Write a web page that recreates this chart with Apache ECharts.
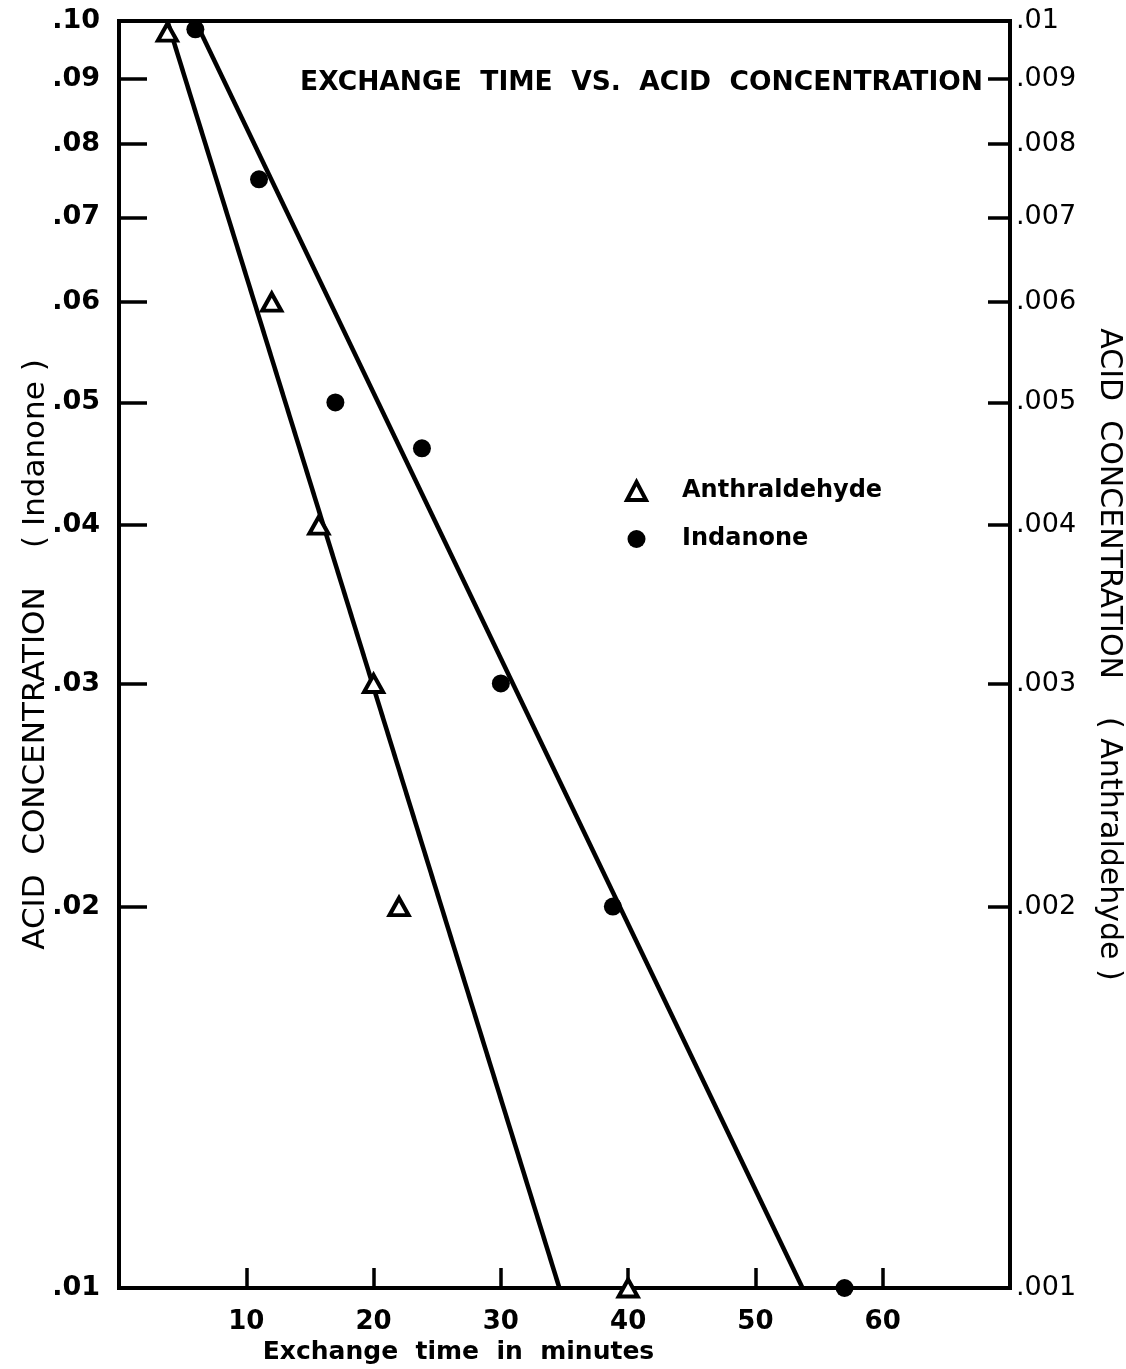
<!DOCTYPE html>
<html>
<head>
<meta charset="utf-8">
<script src="https://cdn.jsdelivr.net/npm/echarts@6/dist/echarts.min.js"></script>
<style>
html,body{margin:0;padding:0;background:#fff;}
#chart{width:1126px;height:1369px;}
</style>
</head>
<body>
<div id="chart"></div>
<script>
// ---- data ----
var xTickValues = [10, 20, 30, 40, 50, 60];
var leftTickValues = [0.02, 0.03, 0.04, 0.05, 0.06, 0.07, 0.08, 0.09];
var leftLabelValues = [0.01, 0.02, 0.03, 0.04, 0.05, 0.06, 0.07, 0.08, 0.09, 0.1];
var rightTickValues = [0.002, 0.003, 0.004, 0.005, 0.006, 0.007, 0.008, 0.009];
var rightLabelValues = [0.001, 0.002, 0.003, 0.004, 0.005, 0.006, 0.007, 0.008, 0.009, 0.01];

// Anthraldehyde (right axis): [time min, acid conc]
var anthraldehydePoints = [[3.8, 0.0098], [12, 0.006], [15.7, 0.004], [20, 0.003], [22, 0.002], [40, 0.001]];
var anthraldehydeLine = [[3.8, 0.01], [34.6, 0.001]];
// Indanone (left axis)
var indanonePoints = [[6, 0.0985], [11, 0.075], [17, 0.05], [23.8, 0.046], [30, 0.03], [38.8, 0.02], [57, 0.01]];
var indanoneLine = [[6.0, 0.1], [53.7, 0.01]];

var FONT = 'DejaVu Sans';

var chart = echarts.init(document.getElementById('chart'));
chart.setOption({
  backgroundColor: '#fff',
  animation: false,
  title: {
    text: 'EXCHANGE  TIME  VS.  ACID  CONCENTRATION',
    right: 138,
    top: 65,
    textStyle: {fontFamily: FONT, fontSize: 26.5, fontWeight: 'bold', color: '#000'}
  },
  legend: {
    orient: 'vertical',
    left: 620,
    top: 474,
    itemGap: 24,
    itemWidth: 19,
    itemHeight: 18,
    data: [
      {name: 'Anthraldehyde', itemStyle: {borderWidth: 4, borderColor: '#000', color: '#fff'}},
      {name: 'Indanone'}
    ],
    textStyle: {fontFamily: FONT, fontSize: 24, fontWeight: 'bold', color: '#000', padding: [0, 0, 0, 31]}
  },
  grid: {
    left: 119, right: 116, top: 21, bottom: 81,
    outerBoundsMode: 'none', containLabel: false,
    show: true, borderColor: '#000', borderWidth: 4, backgroundColor: 'transparent'
  },
  xAxis: {
    type: 'value', min: 0, max: 70,
    name: 'Exchange  time  in  minutes',
    nameLocation: 'middle', nameGap: 52, nameMoveOverlap: false,
    nameTextStyle: {fontFamily: FONT, fontSize: 25, fontWeight: 'bold', color: '#000', padding: [0, 212, 0, 0]},
    axisLine: {show: true, lineStyle: {color: '#000', width: 4}},
    axisTick: {show: true, inside: true, length: 20, customValues: xTickValues, lineStyle: {color: '#000', width: 3.5}},
    axisLabel: {customValues: xTickValues, margin: 21, fontFamily: FONT, fontSize: 26, fontWeight: 'bold', color: '#000'},
    splitLine: {show: false}
  },
  yAxis: [{
    type: 'log', logBase: 10, min: 0.01, max: 0.1, position: 'left',
    name: 'ACID  CONCENTRATION    ( Indanone )',
    nameLocation: 'middle', nameGap: 68, nameRotate: 90, nameMoveOverlap: false,
    nameTextStyle: {fontFamily: FONT, fontSize: 31, color: '#000'},
    axisLine: {show: true, lineStyle: {color: '#000', width: 4}},
    axisTick: {show: true, inside: true, length: 28, customValues: leftTickValues, lineStyle: {color: '#000', width: 3.5}},
    axisLabel: {customValues: leftLabelValues, margin: 19, fontFamily: FONT, fontSize: 27, fontWeight: 'bold', color: '#000',
      formatter: function (v) { return v.toFixed(2).replace(/^0/, ''); }},
    splitLine: {show: false}, minorTick: {show: false}
  }, {
    type: 'log', logBase: 10, min: 0.001, max: 0.01, position: 'right',
    name: 'ACID  CONCENTRATION    ( Anthraldehyde )',
    nameLocation: 'middle', nameGap: 84, nameRotate: -90,
    nameTextStyle: {fontFamily: FONT, fontSize: 30, color: '#000'},
    axisLine: {show: true, lineStyle: {color: '#000', width: 4}},
    axisTick: {show: true, inside: true, length: 22, customValues: rightTickValues, lineStyle: {color: '#000', width: 3.5}},
    axisLabel: {customValues: rightLabelValues, margin: 6, fontFamily: FONT, fontSize: 27, color: '#000',
      formatter: function (v) { return v >= 0.0099 ? '.01' : v.toFixed(3).replace(/^0/, ''); }},
    splitLine: {show: false}, minorTick: {show: false}
  }],
  series: [{
    name: 'Anthraldehyde fit', type: 'line', yAxisIndex: 1, data: anthraldehydeLine,
    symbol: 'none', lineStyle: {color: '#000', width: 4.5}, z: 2, silent: true
  }, {
    name: 'Indanone fit', type: 'line', yAxisIndex: 0, data: indanoneLine,
    symbol: 'none', lineStyle: {color: '#000', width: 4.5}, z: 2, silent: true
  }, {
    name: 'Anthraldehyde', type: 'scatter', yAxisIndex: 1, data: anthraldehydePoints,
    symbol: 'triangle', symbolSize: [19, 17], clip: false,
    itemStyle: {color: '#fff', borderColor: '#000', borderWidth: 4, opacity: 1}, z: 5
  }, {
    name: 'Indanone', type: 'scatter', yAxisIndex: 0, data: indanonePoints,
    symbol: 'circle', symbolSize: 18, clip: false,
    itemStyle: {color: '#000', opacity: 1}, z: 5
  }]
});
</script>
</body>
</html>
